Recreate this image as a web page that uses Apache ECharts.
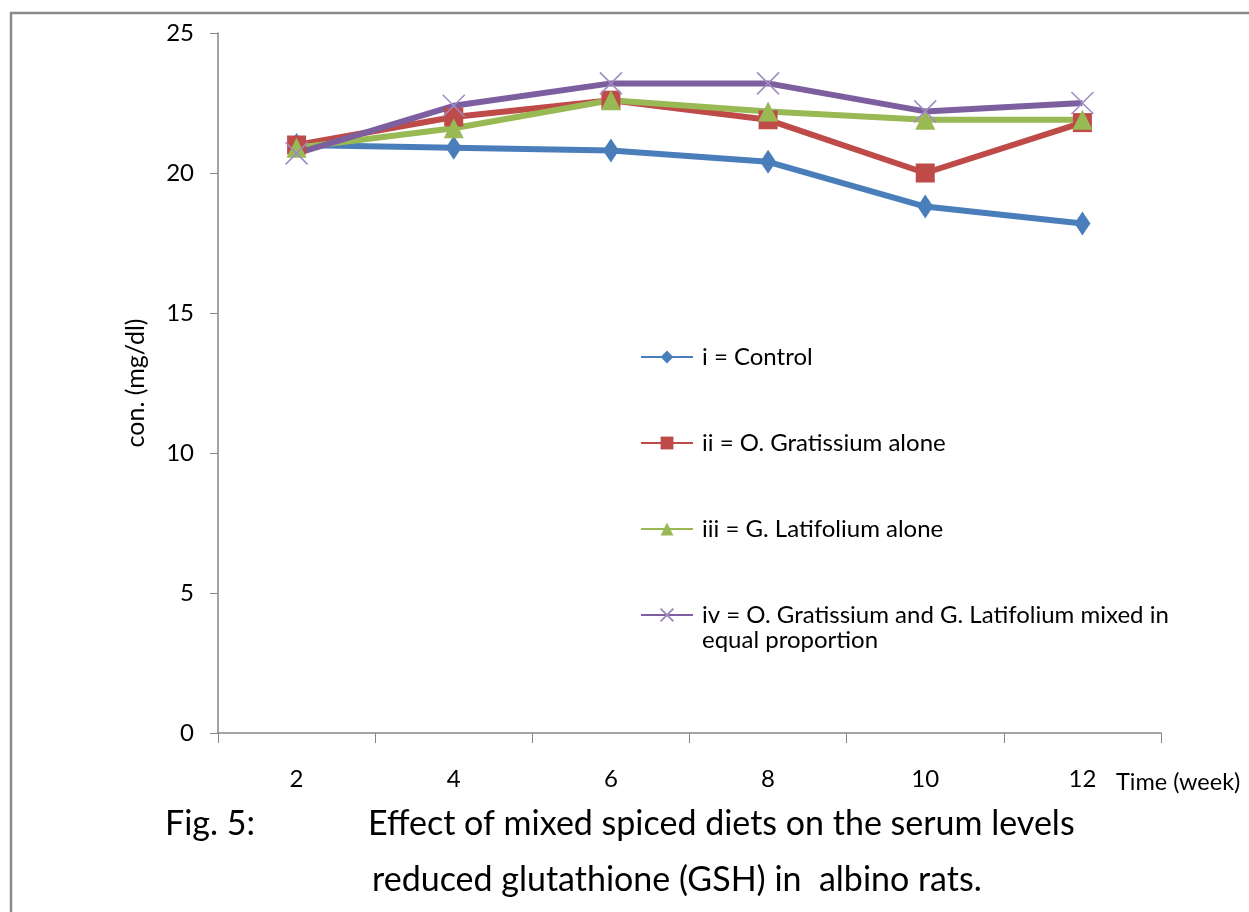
<!DOCTYPE html>
<html>
<head>
<meta charset="utf-8">
<script src="https://cdn.jsdelivr.net/npm/echarts@6/dist/echarts.min.js"></script>
<style>html,body{margin:0;padding:0;background:#fff;}#c{width:1249px;height:912px;}</style>
</head>
<body>
<div id="c"></div>
<script>
const weeks = ['2', '4', '6', '8', '10', '12'];
const seriesNames = [
  'i = Control',
  'ii = O. Gratissium alone',
  'iii = G. Latifolium alone',
  'iv = O. Gratissium and G. Latifolium mixed in'
];
const control = [21.0, 20.9, 20.8, 20.4, 18.8, 18.2];
const gratissium = [21.0, 22.0, 22.6, 21.9, 20.0, 21.8];
const latifolium = [20.9, 21.6, 22.6, 22.2, 21.9, 21.9];
const mixed = [20.7, 22.4, 23.2, 23.2, 22.2, 22.5];
const yTicks = [0, 5, 10, 15, 20, 25];

const FONT = 'Lato';
const chart = echarts.init(document.getElementById('c'));
const xPath = 'path://M0,0L10,10M10,0L0,10';

chart.setOption({
  animation: false,
  backgroundColor: '#fff',
  textStyle: { fontFamily: FONT, color: '#000' },
  grid: { left: 218, right: 88, top: 33, bottom: 179 },
  legend: {
    orient: 'vertical',
    left: 635,
    top: 340,
    itemWidth: 52,
    itemHeight: 16,
    itemGap: 62,
    data: seriesNames,
    textStyle: { fontFamily: FONT, fontSize: 24, color: '#000', padding: [0, 0, 0, 4], lineHeight: 24 }
  },
  xAxis: {
    type: 'category',
    data: weeks,
    boundaryGap: true,
    axisLine: { lineStyle: { color: '#868686', width: 1.5 } },
    axisTick: { show: true, length: 10, alignWithLabel: false, lineStyle: { color: '#868686' } },
    axisLabel: { fontFamily: FONT, fontSize: 24, color: '#000', margin: 34 },
    splitLine: { show: false }
  },
  yAxis: {
    type: 'value',
    min: yTicks[0],
    max: yTicks[yTicks.length - 1],
    interval: 5,
    name: 'con. (mg/dl)',
    nameLocation: 'middle',
    nameGap: 70,
    nameTextStyle: { fontFamily: FONT, fontSize: 25, color: '#000' },
    axisLine: { show: true, lineStyle: { color: '#868686', width: 1.5 } },
    axisTick: { show: true, inside: false, length: 8, lineStyle: { color: '#868686' } },
    axisLabel: { fontFamily: FONT, fontSize: 24, color: '#000', margin: 24 },
    splitLine: { show: false }
  },
  series: [
    { name: seriesNames[0], type: 'line', data: control, symbol: 'diamond', symbolSize: [16, 24],
      lineStyle: { color: '#4A7EBB', width: 6 }, itemStyle: { color: '#4A7EBB' } },
    { name: seriesNames[1], type: 'line', data: gratissium, symbol: 'rect', symbolSize: 19,
      lineStyle: { color: '#BE4B48', width: 6 }, itemStyle: { color: '#BE4B48' } },
    { name: seriesNames[2], type: 'line', data: latifolium, symbol: 'triangle', symbolSize: 20,
      lineStyle: { color: '#98B954', width: 6 }, itemStyle: { color: '#98B954' } },
    { name: seriesNames[3], type: 'line', data: mixed, symbol: xPath, symbolSize: 22,
      lineStyle: { color: '#7D5FA0', width: 6 },
      itemStyle: { color: 'rgba(0,0,0,0)', borderColor: '#9F8BC0', borderWidth: 1.5 } }
  ],
  graphic: [
    { type: 'rect', shape: { x: 11, y: 13, width: 1300, height: 1000 }, silent: true,
      style: { fill: 'none', stroke: '#8a8a8a', lineWidth: 2.5 } },
    { type: 'text', left: 1116, top: 770, style: { text: 'Time (week)', fontFamily: FONT, fontSize: 23.5, fill: '#000' } },
    { type: 'text', left: 702, top: 628, style: { text: 'equal proportion', fontFamily: FONT, fontSize: 24, fill: '#000' } },
    { type: 'text', left: 165, top: 807, style: { text: 'Fig. 5:', fontFamily: FONT, fontSize: 34, fill: '#000' } },
    { type: 'text', left: 368, top: 807, style: { text: 'Effect of mixed spiced diets on the serum levels', fontFamily: FONT, fontSize: 34, fill: '#000' } },
    { type: 'text', left: 372, top: 863, style: { text: 'reduced glutathione (GSH) in  albino rats.', fontFamily: FONT, fontSize: 34, fill: '#000' } }
  ]
});
</script>
</body>
</html>
